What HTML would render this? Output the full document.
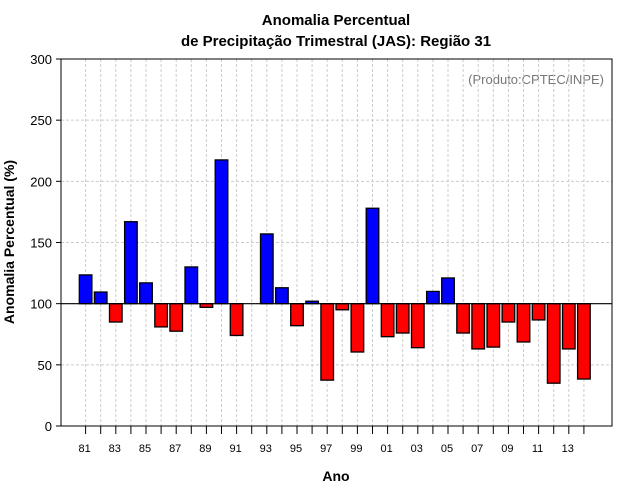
<!DOCTYPE html>
<html><head><meta charset="utf-8"><style>
body{margin:0;background:#fff;}
svg{display:block;font-family:"Liberation Sans",sans-serif;}
</style></head><body>
<svg id="chart" width="640" height="500">
<text x="336" y="25" text-anchor="middle" font-size="15" font-weight="bold">Anomalia Percentual</text>
<text x="336" y="46" text-anchor="middle" font-size="15" font-weight="bold">de Precipitação Trimestral (JAS): Região 31</text>
<text x="336" y="481" text-anchor="middle" font-size="14" font-weight="bold">Ano</text>
<text transform="translate(14,242) rotate(-90)" text-anchor="middle" font-size="14" font-weight="bold">Anomalia Percentual (%)</text>
<text x="604" y="84" text-anchor="end" font-size="13" fill="#777">(Produto:CPTEC/INPE)</text>
<g id="grid"></g><g id="bars"></g><g id="axes"></g>
</svg>
<script>
const years=[1981,1982,1983,1984,1985,1986,1987,1988,1989,1990,1991,1992,1993,1994,1995,1996,1997,1998,1999,2000,2001,2002,2003,2004,2005,2006,2007,2008,2009,2010,2011,2012,2013,2014];
const values=[123.5,109.5,85,167,117,81,77.5,130,97,217.5,74,100,157,113,82,102,37.5,95,60.5,178,73,76,64,110,121,76,63,64.5,85,68.7,86.7,35,63,38.4];
const yTicks=[0,50,100,150,200,250,300];
const L=61,R=612,T=59,B=426;
const x=y=>85.6+(y-1981)*15.1;
const yS=v=>B-(v/300)*(B-T);
const NS='http://www.w3.org/2000/svg';
function mk(t,a,p){const e=document.createElementNS(NS,t);for(const k in a)e.setAttribute(k,a[k]);p.appendChild(e);return e;}
const g=document.getElementById('grid'),bg=document.getElementById('bars'),ag=document.getElementById('axes');
years.forEach(yr=>{mk('line',{x1:x(yr),x2:x(yr),y1:T,y2:B,stroke:'#ccc','stroke-dasharray':'3,2'},g);});
yTicks.forEach(v=>{if(v>0&&v<300)mk('line',{x1:L,x2:R,y1:yS(v),y2:yS(v),stroke:'#ccc','stroke-dasharray':'3,2'},g);});
years.forEach((yr,i)=>{const v=values[i];if(v===100)return;const y0=yS(100),y1=yS(v);
const r=mk('rect',{x:x(yr)-6.3,y:Math.min(y0,y1),width:12.6,height:Math.abs(y1-y0),fill:v>100?'#0000ff':'#ff0000',stroke:'#000','stroke-width':1.3},bg);

});
mk('line',{x1:L,x2:R,y1:yS(100),y2:yS(100),stroke:'#000','stroke-width':1.2},ag);
mk('rect',{x:L,y:T,width:R-L,height:B-T,fill:'none',stroke:'#000','stroke-width':1},ag);
yTicks.forEach(v=>{mk('line',{x1:L-5,x2:L,y1:yS(v),y2:yS(v),stroke:'#000'},ag);
const t=mk('text',{x:L-9,y:yS(v)+5,'text-anchor':'end','font-size':13},ag);t.textContent=v;

});
years.forEach((yr,i)=>{mk('line',{x1:x(yr),x2:x(yr),y1:B,y2:B+8,stroke:'#000'},ag);
if(i%2===0){const t=mk('text',{x:x(yr)-1,y:452,'text-anchor':'middle','font-size':11},ag);t.textContent=String(yr).slice(2);

}});
</script>
</body></html>
